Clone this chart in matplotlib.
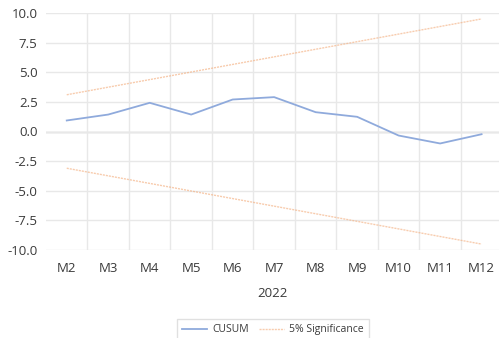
import matplotlib.pyplot as plt
from matplotlib.ticker import MultipleLocator, FixedLocator

months = ["M2", "M3", "M4", "M5", "M6", "M7", "M8", "M9", "M10", "M11", "M12"]
cusum = [0.93, 1.43, 2.42, 1.43, 2.70, 2.90, 1.63, 1.24, -0.34, -1.01, -0.23]
upper = [3.10, 3.74, 4.38, 5.02, 5.66, 6.30, 6.94, 7.58, 8.22, 8.86, 9.50]
lower = [-3.10, -3.74, -4.38, -5.02, -5.66, -6.30, -6.94, -7.58, -8.22, -8.86, -9.50]

plt.rcParams["font.family"] = ["Open Sans", "DejaVu Sans"]
text_color = "#3A3A3A"

fig = plt.figure(figsize=(4.99, 3.38), dpi=100)
ax = fig.add_axes([46 / 499, 1 - 250 / 338, 453 / 499, 237 / 338])

x = list(range(len(months)))
ax.plot(x, cusum, color="#8FAADC", lw=1.3, label="CUSUM", zorder=3)
ax.plot(x, upper, color="#F4B183", lw=1.0, ls=(0, (1.5, 0.7)), alpha=0.65,
        label="5% Significance", zorder=3)
ax.plot(x, lower, color="#F4B183", lw=1.0, ls=(0, (1.5, 0.7)), alpha=0.65, zorder=3)

ax.set_xlim(-0.5, 10.42)
ax.set_ylim(-10, 10)
ax.yaxis.set_major_locator(MultipleLocator(2.5))
ax.set_yticklabels([f"{v:.1f}" for v in ax.get_yticks()])
ax.set_xticks(x)
ax.set_xticklabels(months)
ax.xaxis.set_minor_locator(FixedLocator([i + 0.5 for i in range(10)]))

ax.grid(axis="y", color="#E8E8E8", lw=1.0, zorder=0)
ax.grid(axis="x", which="minor", color="#E8E8E8", lw=1.0, zorder=0)
ax.axhline(0, color="#BFBFBF", lw=1.0, zorder=1)

for s in ax.spines.values():
    s.set_visible(False)
ax.tick_params(axis="both", which="both", length=0, labelsize=9.5,
               colors=text_color)
ax.tick_params(axis="y", pad=6)
ax.tick_params(axis="x", pad=9)
ax.set_xlabel("2022", fontsize=9.5, color=text_color, labelpad=8)

fig.legend(loc="upper center", bbox_to_anchor=(273 / 499, 1 - 314 / 338),
           ncol=2, fontsize=7.5, frameon=True, fancybox=False,
           edgecolor="#D9D9D9", handlelength=2.4, handletextpad=0.5,
           columnspacing=1.0, labelcolor=text_color, borderpad=0.5)

fig.savefig("out.png", dpi=100)
